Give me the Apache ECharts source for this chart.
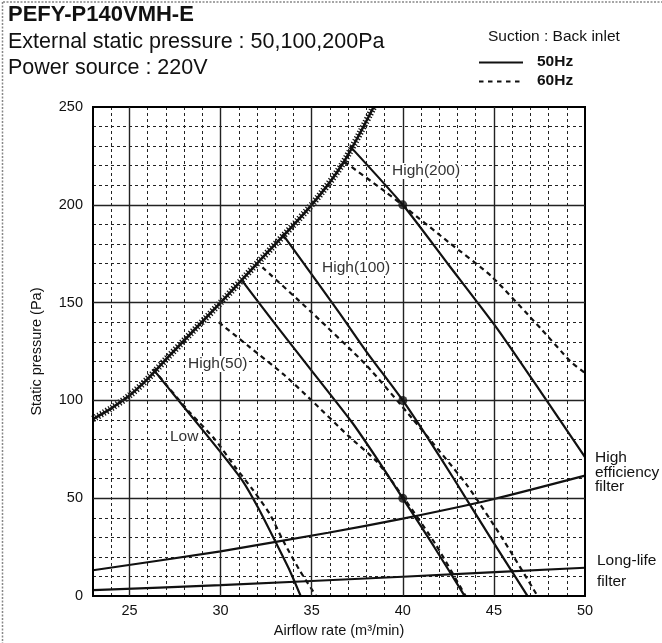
<!DOCTYPE html>
<html>
<head>
<meta charset="utf-8">
<script src="https://cdn.jsdelivr.net/npm/echarts@6/dist/echarts.min.js"></script>
<style>
html,body{margin:0;padding:0;background:#fff;}
#c{width:662px;height:643px;}
</style>
</head>
<body>
<div id="c"></div>
<script>
// ---------- data ----------
const majorX = [25, 30, 35, 40, 45];
const majorY = [50, 100, 150, 200];

const limitX = [23, 24, 25, 26, 27, 30, 32, 35, 36.7, 38.4];
const limitY = [90.5, 96, 102.5, 111, 121, 150, 170, 200, 221, 250];

const low50X = [26.3, 28, 30, 31.2, 32.1, 33, 33.8, 34.4];
const low50Y = [116, 96.5, 73.6, 59, 44.5, 28, 13, 0];
const low60X = [26.3, 28.3, 29.7, 30.8, 31.8, 32.7, 33.45, 34.35, 35.25];
const low60Y = [116, 94, 80, 66, 54, 42, 28, 13, 0];

const high50_50X = [31.2, 33, 34.93, 37.2, 38.6, 40, 41.7, 43.4];
const high50_50Y = [161, 139, 116, 89, 70, 50, 25.5, 0];
const high50_60X = [29.9, 31.5, 33.5, 35, 37, 38.6, 40.15, 41.8, 43.45];
const high50_60Y = [140, 128, 113, 100, 82, 68.5, 49, 26.5, 0];

const high100_50X = [33.4, 35, 36.5, 38, 40, 41.5, 42.8, 44.8, 46.85];
const high100_50Y = [185, 164.5, 145, 125, 100, 79, 60, 30, 0];
const high100_60X = [32.3, 35, 38, 40.5, 43.5, 45.5, 47.4];
const high100_60Y = [168, 145, 118, 91, 57, 29, 0];

const high200_50X = [37.1, 40, 42.5, 45.2, 47.6, 50];
const high200_50Y = [230, 200, 169.5, 136.5, 104, 71];
const high200_60X = [36.8, 39, 40.3, 42.5, 44.86, 47.6, 49.2, 50];
const high200_60Y = [222, 207, 197.5, 181, 163.5, 136.5, 120, 114];

const hefX = [23, 30, 35.9, 40, 44.9, 50];
const hefY = [13.2, 22.9, 32.4, 39.6, 49.4, 61.6];
const llfX = [23, 30, 40, 50];
const llfY = [3.1, 5.6, 9.9, 14.5];

const dotX = [40, 40, 40];
const dotY = [50, 100, 200];

// ---------- chart ----------
const FONT = "'Liberation Sans', Arial, Helvetica, sans-serif";
const INK = '#111';
function pairs(xs, ys) { return xs.map((x, i) => [x, ys[i]]); }
const solidStyle = { color: INK, width: 2.2, type: 'solid' };
const dashStyle = { color: INK, width: 2.2, type: [5, 4] };

function curve(name, xs, ys, style) {
  return {
    type: 'line', name: name, data: pairs(xs, ys), symbol: 'none',
    smooth: 0.2,
    lineStyle: style, itemStyle: { color: INK }, z: 4, silent: true
  };
}

function txt(text, x, y, size, opts) {
  opts = opts || {};
  return {
    type: 'text', z: opts.z || 20,
    style: Object.assign({
      text: text, x: x, y: y,
      font: (opts.bold ? 'bold ' : '') + size + 'px ' + FONT,
      fill: opts.fill || '#111',
      textAlign: 'left', align: 'left',
      textVerticalAlign: 'middle', verticalAlign: 'middle'
    }, opts.extra || {})
  };
}
function seg(x1, y1, x2, y2, dash) {
  return { type: 'line', z: 20, shape: { x1: x1, y1: y1, x2: x2, y2: y2 },
    style: { stroke: INK, lineWidth: 2.2, lineDash: dash || null } };
}
const plotLabelBg = { backgroundColor: '#fff', padding: [0, 1] };

const chart = echarts.init(document.getElementById('c'), null, { renderer: 'canvas' });
chart.setOption({
  animation: false,
  backgroundColor: '#fff',
  grid: { left: 93, top: 107, right: 77, bottom: 45, show: true, borderColor: '#000', borderWidth: 2, backgroundColor: 'transparent', z: 5 },
  xAxis: {
    type: 'value', min: 23, max: 50, interval: 1,
    axisLine: { show: false }, axisTick: { show: false },
    axisLabel: { formatter: v => (v % 5 === 0 ? String(v) : ''), color: '#111', fontFamily: FONT, fontSize: 14.5, margin: 7 },
    splitLine: { show: true, lineStyle: { color: '#222', width: 1, type: [3, 3] } },
    name: 'Airflow rate (m³/min)', nameLocation: 'middle', nameGap: 23,
    nameTextStyle: { color: '#111', fontFamily: FONT, fontSize: 14.5 }
  },
  yAxis: {
    type: 'value', min: 0, max: 250, interval: 10,
    axisLine: { show: false }, axisTick: { show: false },
    axisLabel: { formatter: v => (v % 50 === 0 ? String(v) : ''), color: '#111', fontFamily: FONT, fontSize: 14.5, margin: 10 },
    splitLine: { show: true, lineStyle: { color: '#222', width: 1, type: [3, 3] } },
    name: 'Static pressure (Pa)', nameLocation: 'middle', nameGap: 49, nameRotate: 90,
    nameTextStyle: { color: '#111', fontFamily: FONT, fontSize: 14.5 }
  },
  series: [
    { type: 'line', name: 'major', data: [], silent: true, z: 2,
      markLine: { symbol: ['none', 'none'], silent: true, animation: false, label: { show: false },
        lineStyle: { color: '#222', width: 1.4, type: 'solid' },
        data: majorX.map(v => ({ xAxis: v })).concat(majorY.map(v => ({ yAxis: v }))) } },
    { type: 'line', name: 'limitHatch', data: pairs(limitX, limitY), symbol: 'none', smooth: 0.3, silent: true, z: 4,
      lineStyle: { color: INK, width: 7, type: [1.2, 1.9] } },
    { type: 'line', name: 'limit', data: pairs(limitX, limitY), symbol: 'none', smooth: 0.3, silent: true, z: 4,
      lineStyle: { color: INK, width: 2.6 } },
    curve('filterHE', hefX, hefY, solidStyle),
    curve('filterLL', llfX, llfY, solidStyle),
    curve('50Hz', low50X, low50Y, solidStyle),
    curve('60Hz', low60X, low60Y, dashStyle),
    curve('50Hz', high50_50X, high50_50Y, solidStyle),
    curve('60Hz', high50_60X, high50_60Y, dashStyle),
    curve('50Hz', high100_50X, high100_50Y, solidStyle),
    curve('60Hz', high100_60X, high100_60Y, dashStyle),
    curve('50Hz', high200_50X, high200_50Y, solidStyle),
    curve('60Hz', high200_60X, high200_60Y, dashStyle),
    { type: 'scatter', name: 'points', data: pairs(dotX, dotY), symbol: 'circle', symbolSize: 9,
      itemStyle: { color: INK }, z: 6, silent: true }
  ],
  graphic: [
    { type: 'line', z: 30, shape: { x1: 3, y1: 2, x2: 662, y2: 2 }, style: { stroke: '#888', lineWidth: 1.5, lineDash: [2, 1.5] } },
    { type: 'line', z: 30, shape: { x1: 2.5, y1: 2, x2: 2.5, y2: 643 }, style: { stroke: '#888', lineWidth: 1.5, lineDash: [2, 1.5] } },
    txt('PEFY-P140VMH-E', 8, 15, 22, { bold: true }),
    txt('External static pressure : 50,100,200Pa', 8, 42, 21.5),
    txt('Power source : 220V', 8, 68, 21.5),
    txt('Suction : Back inlet', 488, 37, 15.5),
    seg(479, 62.5, 523, 62.5),
    seg(479, 81.5, 523, 81.5, [4.5, 4.5]),
    txt('50Hz', 537, 62, 15.5, { bold: true }),
    txt('60Hz', 537, 81, 15.5, { bold: true }),
    txt('High(200)', 391, 171, 15.5, { fill: '#333', extra: plotLabelBg }),
    txt('High(100)', 321, 268, 15.5, { fill: '#333', extra: plotLabelBg }),
    txt('High(50)', 187, 364, 15.5, { fill: '#333', extra: plotLabelBg }),
    txt('Low', 169, 437, 15.5, { fill: '#333', extra: plotLabelBg }),
    txt('High', 595, 458, 15.5),
    txt('efficiency', 595, 473, 15.5),
    txt('filter', 595, 487, 15.5),
    txt('Long-life', 597, 561, 15.5),
    txt('filter', 597, 582, 15.5)
  ]
});
</script>
</body>
</html>
